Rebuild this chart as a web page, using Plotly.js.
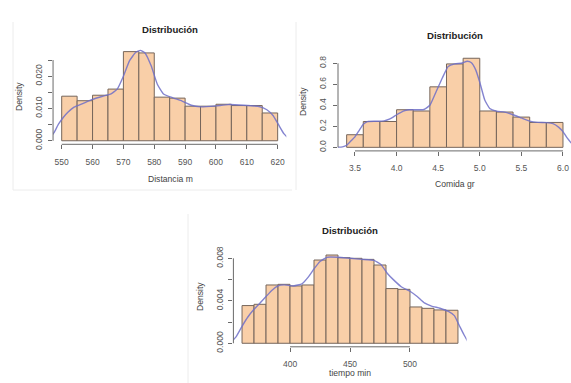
<!DOCTYPE html>
<html>
<head>
<meta charset="utf-8">
<script src="https://cdn.plot.ly/plotly-3.0.1.min.js"></script>
<style>html,body{margin:0;padding:0;background:#fff;}#chart{width:571px;height:383px;}</style>
</head>
<body>
<div id="chart"></div>
<script>
// ---------- Panel 1: Distancia m ----------
const distBreaks = [550,555,560,565,570,575,580,585,590,595,600,605,610,615,620];
const distDensity = [0.0138,0.0124,0.0141,0.0160,0.0276,0.0272,0.0135,0.0132,0.0107,0.0107,0.0113,0.0109,0.0109,0.0086];
const distCurveX = [546,547.5,549,550.5,552,554,557,560,563,566,568,570,572,574,575.5,577,579,581,583,586,589,592,595,600,604,609,614,616.5,618.5,620.5,622,624];
const distCurveY = [0.0005,0.0025,0.0052,0.0072,0.0088,0.0104,0.0116,0.0128,0.0137,0.0145,0.0160,0.0200,0.0248,0.0274,0.0280,0.0272,0.0232,0.0175,0.0145,0.0133,0.0123,0.0110,0.0105,0.0108,0.0112,0.0110,0.0106,0.0096,0.0078,0.0046,0.0022,0.0003];
const distXTicks = [550,560,570,580,590,600,610,620];
const distYTicks = [0,0.005,0.010,0.015,0.020,0.025];
const distYLabels = ['0.000','','0.010','','0.020',''];

// ---------- Panel 2: Comida gr ----------
const comBreaks = [3.4,3.6,3.8,4.0,4.2,4.4,4.6,4.8,5.0,5.2,5.4,5.6,5.8,6.0];
const comDensity = [0.12,0.246,0.246,0.358,0.346,0.576,0.794,0.848,0.346,0.336,0.288,0.237,0.237];
const comCurveX = [3.25,3.35,3.40,3.45,3.50,3.55,3.60,3.65,3.75,3.85,3.92,4.00,4.08,4.15,4.25,4.33,4.40,4.47,4.55,4.62,4.70,4.78,4.85,4.90,4.95,5.00,5.06,5.12,5.20,5.30,5.40,5.50,5.60,5.70,5.80,5.88,5.95,6.00,6.05,6.10];
const comCurveY = [0.0,0.005,0.02,0.06,0.10,0.16,0.22,0.245,0.248,0.252,0.27,0.31,0.345,0.358,0.358,0.36,0.40,0.52,0.66,0.77,0.795,0.80,0.82,0.805,0.74,0.62,0.45,0.37,0.345,0.335,0.31,0.28,0.25,0.238,0.235,0.225,0.19,0.15,0.09,0.04];
const comXTicks = [3.5,4.0,4.5,5.0,5.5,6.0];
const comXLabels = ['3.5','4.0','4.5','5.0','5.5','6.0'];
const comYTicks = [0,0.2,0.4,0.6,0.8];
const comYLabels = ['0.0','0.2','0.4','0.6','0.8'];

// ---------- Panel 3: tiempo min ----------
const tieBreaks = [360,370,380,390,400,410,420,430,440,450,460,470,480,490,500,510,520,530,540];
const tieDensity = [0.00355,0.00367,0.00549,0.00555,0.00540,0.00549,0.00784,0.00831,0.00806,0.00800,0.00790,0.00737,0.00515,0.00508,0.00342,0.00329,0.00314,0.00311];
const tieCurveX = [350,355,360,365,370,375,380,385,390,395,403,410,415,420,425,431,440,450,460,470,476,481,487,493,500,506,512,518,525,532,537,541,545,549];
const tieCurveY = [0.0,0.0006,0.0016,0.0025,0.0032,0.0038,0.0044,0.0050,0.0054,0.0055,0.0054,0.0056,0.0062,0.0070,0.0077,0.0081,0.0081,0.0080,0.0079,0.0078,0.0074,0.0066,0.0059,0.0053,0.0049,0.0044,0.0038,0.0035,0.0033,0.0030,0.0026,0.0017,0.0008,0.0];
const tieXTicks = [400,450,500];
const tieYTicks = [0,0.002,0.004,0.006,0.008];
const tieYLabels = ['0.000','','0.004','','0.008'];

const titleText = 'Distribución';
const xTitles = ['Distancia m','Comida gr','tiempo min'];
const yTitle = 'Density';

// ---------- styling ----------
const W = 571, H = 383;
const FONT = 'Liberation Sans, Arial, sans-serif';
const barFill = '#F9CFA8';
const barEdge = '#76665b';
const curveCol = 'rgba(110,110,200,0.85)';
const axisCol = '#6a6a6a';
const tickFont = {family: FONT, size: 8.5, color: '#555'};

function px(x){return x/W;}
function py(y){return 1 - y/H;}

function hist(breaks, dens, xa, ya){
  const centers = [], widths = [];
  for(let i=0;i<dens.length;i++){centers.push((breaks[i]+breaks[i+1])/2); widths.push(breaks[i+1]-breaks[i]);}
  return {type:'bar', x:centers, y:dens, width:widths, xaxis:xa, yaxis:ya,
    marker:{color:barFill, line:{color:barEdge, width:1}}, hoverinfo:'skip', showlegend:false};
}
function curve(xs, ys, xa, ya){
  return {type:'scatter', mode:'lines', x:xs, y:ys, xaxis:xa, yaxis:ya,
    line:{color:curveCol, width:1.4, shape:'spline', smoothing:0.4}, hoverinfo:'skip', showlegend:false};
}

const data = [
  hist(distBreaks, distDensity, 'x', 'y'), curve(distCurveX, distCurveY, 'x', 'y'),
  hist(comBreaks, comDensity, 'x2', 'y2'), curve(comCurveX, comCurveY, 'x2', 'y2'),
  hist(tieBreaks, tieDensity, 'x3', 'y3'), curve(tieCurveX, tieCurveY, 'x3', 'y3')
];

function xax(domain, range, ticks, labels, anchor){
  return {domain:domain, range:range, anchor:anchor, tickmode:'array', tickvals:ticks, ticktext:labels,
    showgrid:false, zeroline:false, showline:false, ticks:'outside', ticklen:4, tickwidth:1, tickcolor:axisCol,
    tickfont:tickFont, ticklabelstandoff:5, fixedrange:true};
}
function yax(domain, range, ticks, labels, anchor, standoff){
  return {domain:domain, range:range, anchor:anchor, tickmode:'array', tickvals:ticks, ticktext:labels,
    showgrid:false, zeroline:false, showline:false, ticks:'outside', ticklen:4, tickwidth:1, tickcolor:axisCol,
    tickfont:tickFont, tickangle:-90, ticklabelstandoff:standoff, fixedrange:true};
}

function axisLines(ticksX, ticksY, xa, ya){
  return [
    {type:'line', xref:xa, yref:ya+' domain', x0:ticksX[0], x1:ticksX[ticksX.length-1], y0:0, y1:0, line:{color:axisCol, width:1}},
    {type:'line', xref:xa+' domain', yref:ya, x0:0, x1:0, y0:ticksY[0], y1:ticksY[ticksY.length-1], line:{color:axisCol, width:1}}
  ];
}

const shapes = [].concat(
  axisLines(distXTicks, distYTicks, 'x', 'y'),
  axisLines(comXTicks, comYTicks, 'x2', 'y2'),
  axisLines(tieXTicks, tieYTicks, 'x3', 'y3'),
  [
    {type:'line', xref:'paper', yref:'paper', x0:px(13), x1:px(13), y0:py(22), y1:py(190), line:{color:'#ececec', width:1}},
    {type:'line', xref:'paper', yref:'paper', x0:px(13), x1:px(292), y0:py(190), y1:py(190), line:{color:'#ececec', width:1}},
    {type:'line', xref:'paper', yref:'paper', x0:px(296), x1:px(296), y0:py(22), y1:py(190), line:{color:'#ececec', width:1}},
    {type:'line', xref:'paper', yref:'paper', x0:px(188), x1:px(188), y0:py(214), y1:py(383), line:{color:'#ececec', width:1}}
  ]
);

function ann(text, x, y, opts){
  return Object.assign({text:text, xref:'paper', yref:'paper', x:px(x), y:py(y), xanchor:'center', yanchor:'middle',
    showarrow:false, font:{family:FONT, size:8.6, color:'#444'}}, opts||{});
}
const titleFont = {family:FONT, size:9.6, color:'#222', weight:'bold'};
const annotations = [
  ann('<b>'+titleText+'</b>', 170, 30, {font:titleFont}),
  ann('<b>'+titleText+'</b>', 455, 35, {font:titleFont}),
  ann('<b>'+titleText+'</b>', 350, 230, {font:titleFont}),
  ann(xTitles[0], 170, 179),
  ann(xTitles[1], 455, 184),
  ann(xTitles[2], 350, 373),
  ann(yTitle, 19, 97, {textangle:-90}),
  ann(yTitle, 303, 102, {textangle:-90}),
  ann(yTitle, 200, 297, {textangle:-90})
];

const layout = {
  width:W, height:H, margin:{l:0,r:0,t:0,b:0}, paper_bgcolor:'#fff', plot_bgcolor:'rgba(0,0,0,0)',
  bargap:0, showlegend:false, font:{family:FONT},
  xaxis: xax([px(53.06), px(286.3)], [547.2, 622.8], distXTicks, distXTicks.map(String), 'y'),
  yaxis: yax([py(144.3), py(48.2)], [-0.0011, 0.02866], distYTicks, distYLabels, 'x', 3),
  xaxis2: xax([px(338), 1], [3.296, 6.0965], comXTicks, comXLabels, 'y2'),
  yaxis2: yax([py(150.9), py(54.7)], [-0.0339, 0.8818], comYTicks, comYLabels, 'x2', 4),
  xaxis3: xax([px(233.4), px(466.6)], [352.8, 547.2], tieXTicks, tieXTicks.map(String), 'y3'),
  yaxis3: yax([py(346.8), py(251.5)], [-0.000332, 0.008642], tieYTicks, tieYLabels, 'x3', 2),
  shapes: shapes,
  annotations: annotations
};

Plotly.newPlot('chart', data, layout, {staticPlot:true, displayModeBar:false});
</script>
</body>
</html>
